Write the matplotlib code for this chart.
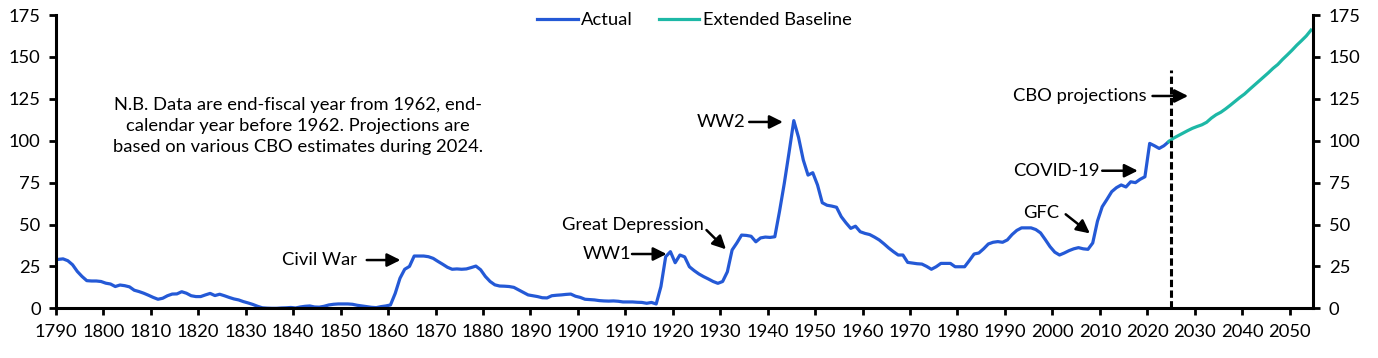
import matplotlib.pyplot as plt
import numpy as np
from matplotlib import rcParams
rcParams['font.family'] = ['Lato', 'DejaVu Sans']
rcParams['font.size'] = 13

# debt held by public, % of GDP
years = np.arange(1790, 2025)
actual = [
    29.2, 29.5, 28.4, 26.0, 22.0, 19.0, 16.5, 16.3, 16.3, 16.0,   # 1790s
    15.0, 14.5, 13.0, 13.9, 13.5, 12.8, 10.8, 10.0, 9.0, 7.8,     # 1800s
    6.5, 5.4, 6.0, 7.5, 8.5, 8.6, 9.9, 9.0, 7.5, 7.0,             # 1810s
    7.0, 8.0, 8.9, 7.6, 8.4, 7.5, 6.5, 5.6, 5.0, 4.0,             # 1820s
    3.2, 2.3, 1.2, 0.3, 0.1, 0.0, 0.0, 0.2, 0.3, 0.5,             # 1830s
    0.2, 0.8, 1.2, 1.4, 0.8, 0.7, 1.2, 2.0, 2.4, 2.6,             # 1840s
    2.6, 2.6, 2.4, 1.8, 1.4, 1.0, 0.6, 0.4, 1.0, 1.4,             # 1850s
    2.0, 8.9, 17.9, 23.3, 25.0, 31.2, 31.2, 31.2, 30.8, 29.8,     # 1860s
    28.0, 26.3, 24.5, 23.3, 23.5, 23.3, 23.5, 24.3, 25.2, 23.0,   # 1870s
    19.0, 16.0, 14.0, 13.3, 13.2, 13.0, 12.5, 11.0, 9.5, 8.0,     # 1880s
    7.5, 7.0, 6.3, 6.2, 7.5, 7.8, 8.0, 8.3, 8.5, 7.2,             # 1890s
    6.5, 5.4, 5.2, 5.0, 4.6, 4.4, 4.3, 4.4, 4.2, 3.8,             # 1900s
    3.8, 3.8, 3.6, 3.5, 3.0, 3.5, 2.6, 13.0, 30.8, 33.8,          # 1910s
    27.2, 31.8, 30.7, 24.8, 22.5, 20.5, 18.9, 17.5, 16.0, 14.9,   # 1920s
    16.0, 21.8, 34.8, 39.0, 43.7, 43.5, 43.0, 39.7, 42.0, 42.5,   # 1930s
    42.3, 42.7, 58.0, 74.6, 93.0, 112.0, 102.0, 88.5, 79.5, 80.9, # 1940s
    73.6, 63.0, 61.5, 61.0, 60.3, 54.7, 51.0, 47.7, 49.0, 45.7,   # 1950s
    44.7, 44.0, 42.5, 40.8, 38.5, 36.0, 33.8, 31.8, 31.8, 27.4,   # 1960s
    27.0, 26.6, 26.4, 25.0, 23.3, 24.8, 26.8, 26.8, 26.8, 24.8,   # 1970s
    24.8, 24.8, 28.5, 32.4, 33.0, 35.5, 38.4, 39.4, 39.8, 39.4,   # 1980s
    40.8, 44.0, 46.5, 48.0, 48.0, 48.0, 47.0, 45.0, 41.0, 36.8,   # 1990s
    33.5, 31.8, 33.0, 34.4, 35.5, 36.2, 35.5, 35.2, 39.0, 52.0,   # 2000s
    60.6, 65.0, 69.6, 72.0, 73.6, 72.4, 75.5, 75.0, 77.0, 78.5,   # 2010s
    98.4, 97.0, 95.4, 97.0, 99.4,                                 # 2020s
]
proj_years = np.arange(2024, 2055)
baseline = [
    99.4, 101.5, 103.0, 104.5, 106.0, 107.4, 108.5, 109.5, 111.0, 113.5,
    115.5, 117.0, 119.0, 121.2, 123.5, 125.8, 127.9, 130.5, 133.0, 135.5,
    138.0, 140.5, 143.2, 145.5, 148.5, 151.2, 154.0, 157.0, 159.7, 162.5,
    166.0,
]

blue = '#2459d6'
teal = '#1db8a6'
fs = 13.2

fig = plt.figure(figsize=(13.78, 3.58), dpi=100)
ax = fig.add_axes([0.0406, 0.1388, 0.9125, 0.8192])

# points sit mid-category like the excel chart
ax.plot(years + 0.5, actual, color=blue, lw=2.3, label='Actual', solid_joinstyle='round')
ax.plot(proj_years + 0.5, baseline, color=teal, lw=2.3, label='Extended Baseline')

ax.vlines(2025, 0, 142, colors='black', lw=2.2, linestyles=(0, (2.4, 1.1)), zorder=3)

ax.set_xlim(1790, 2055)
ax.set_ylim(0, 175)
ax.set_xticks(np.arange(1790, 2051, 10))
ax.set_yticks(np.arange(0, 176, 25))

for s in ['left', 'bottom', 'right']:
    ax.spines[s].set_linewidth(2.2)
ax.spines['top'].set_visible(False)
ax.tick_params(axis='both', direction='out', length=5, width=2, labelsize=fs)
ax.tick_params(axis='y', right=True, labelright=True, pad=6)
ax.tick_params(axis='x', pad=6)

ap = dict(arrowstyle='-|>', color='black', lw=1.8, mutation_scale=20, shrinkA=0, shrinkB=0)

ax.text(1841, 108.8, 'N.B. Data are end-fiscal year from 1962, end-\ncalendar year before 1962. Projections are\n'
        'based on various CBO estimates during 2024.', ha='center', va='center', fontsize=fs, linespacing=1.4)

ax.text(1853.5, 28.8, 'Civil War', ha='right', va='center', fontsize=fs)
ax.annotate('', xy=(1862.6, 28.8), xytext=(1855.5, 28.8), arrowprops=ap)

ax.text(1911.3, 32.4, 'WW1', ha='right', va='center', fontsize=fs)
ax.annotate('', xy=(1918.7, 32.4), xytext=(1911.4, 32.4), arrowprops=ap)

ax.text(1926.6, 49.7, 'Great Depression', ha='right', va='center', fontsize=fs)
ax.annotate('', xy=(1931.2, 35.2), xytext=(1927.1, 46.7), arrowprops=ap)

ax.text(1935.4, 111.2, 'WW2', ha='right', va='center', fontsize=fs)
ax.annotate('', xy=(1943.2, 111.2), xytext=(1936.1, 111.2), arrowprops=ap)

ax.text(2001.5, 56.7, 'GFC', ha='right', va='center', fontsize=fs)
ax.annotate('', xy=(2007.9, 44.7), xytext=(2002.8, 56.1), arrowprops=ap)

ax.text(2010.0, 82.1, 'COVID-19', ha='right', va='center', fontsize=fs)
ax.annotate('', xy=(2018.0, 82.1), xytext=(2010.5, 82.1), arrowprops=ap)

ax.text(2019.8, 126.7, 'CBO projections', ha='right', va='center', fontsize=fs)
ax.annotate('', xy=(2028.6, 126.7), xytext=(2021.1, 126.7), arrowprops=ap)

fig.legend(loc='upper center', bbox_to_anchor=(0.504, 1.012), ncol=2, frameon=False,
           fontsize=fs, handlelength=2.2, handletextpad=0.2, columnspacing=1.4)

fig.savefig('out.png', dpi=100)
